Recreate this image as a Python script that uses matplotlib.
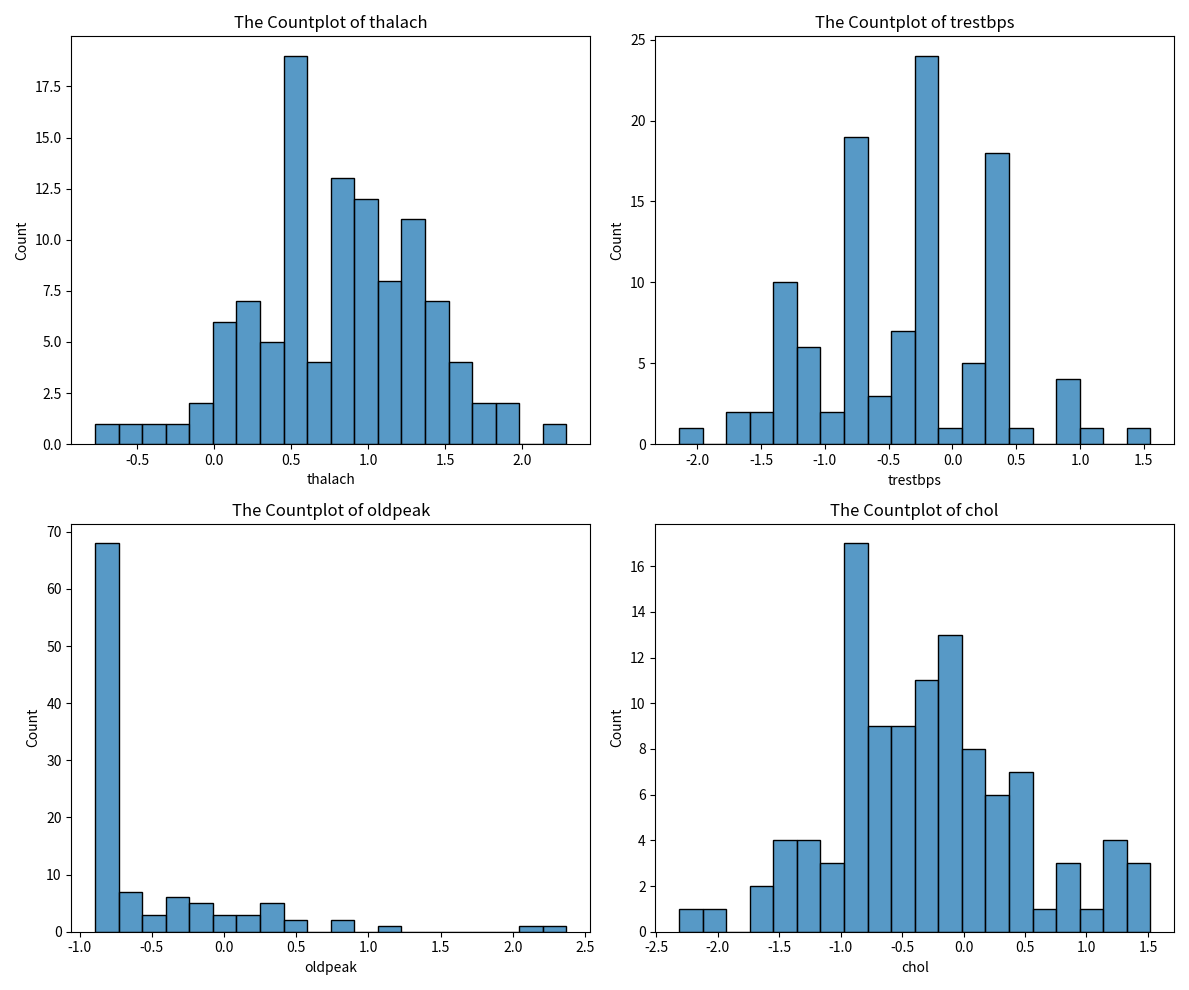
import numpy as np
import matplotlib
matplotlib.use('Agg')
import matplotlib.pyplot as plt

plt.rcParams['font.family'] = ['Noto Sans CJK SC', 'DejaVu Sans']
plt.rcParams['axes.unicode_minus'] = False

# variables, bin range (20 bins) and counts
names = ['thalach', 'trestbps', 'oldpeak', 'chol']
lo = [-0.775, -2.142, -0.894, -2.314]
hi = [2.289, 1.551, 2.371, 1.52]
thalach = [1, 1, 1, 1, 2, 6, 7, 5, 19, 4, 13, 12, 8, 11, 7, 4, 2, 2, 0, 1]
trestbps = [1, 0, 2, 2, 10, 6, 2, 19, 3, 7, 24, 1, 5, 18, 1, 0, 4, 1, 0, 1]
oldpeak = [68, 7, 3, 6, 5, 3, 3, 5, 2, 0, 2, 0, 1, 0, 0, 0, 0, 0, 1, 1]
chol = [1, 1, 0, 2, 4, 4, 3, 17, 9, 9, 11, 13, 8, 6, 7, 1, 3, 1, 4, 3]
counts = [thalach, trestbps, oldpeak, chol]

fig, axes = plt.subplots(2, 2, figsize=(11.89, 9.9), dpi=100)
for ax, name, a, b, c in zip(axes.ravel(), names, lo, hi, counts):
    edges = np.linspace(a, b, len(c) + 1)
    centers = (edges[:-1] + edges[1:]) / 2
    ax.hist(centers, bins=edges, weights=c, facecolor=(0.122, 0.467, 0.706, 0.75),
            edgecolor='black', linewidth=1)
    ax.set_title('The Countplot of ' + name)
    ax.set_xlabel(name)
    ax.set_ylabel('Count')

plt.tight_layout()
plt.savefig('out.png')
